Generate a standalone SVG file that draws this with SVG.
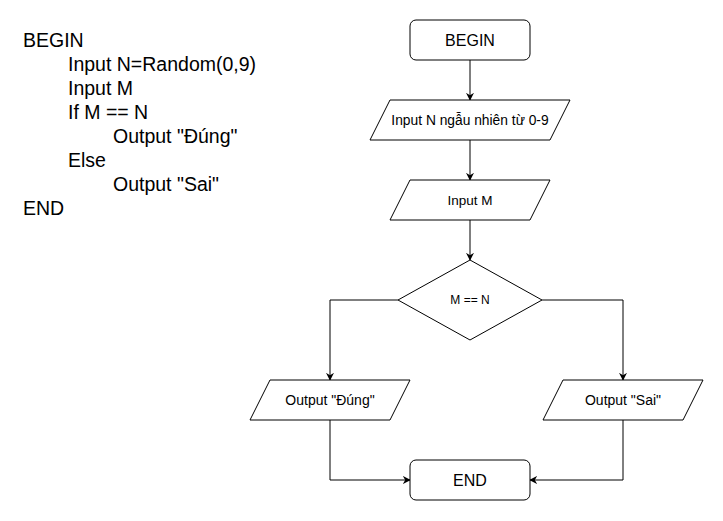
<svg xmlns="http://www.w3.org/2000/svg" width="723" height="521" viewBox="0 0 723 521">
<defs>
<marker id="arr" viewBox="0 0 10 10" refX="9" refY="5" markerWidth="8" markerHeight="8" markerUnits="userSpaceOnUse" orient="auto">
<path d="M0,0 L10,5 L0,10 L3,5 Z" fill="#000"/>
</marker>
</defs>
<style>
.shape{fill:#fff;stroke:#000;stroke-width:1}
.code{font-family:"Liberation Sans",Arial,sans-serif;font-size:19.5px;fill:#000}
.lbl{font-family:"Liberation Sans",Arial,sans-serif;fill:#000;text-anchor:middle;dominant-baseline:central}
.edge{fill:none;stroke:#000;stroke-width:1;marker-end:url(#arr)}
</style>
<rect width="723" height="521" fill="#fff"/>
<g id="code">
<text class="code" x="23" y="47">BEGIN</text>
<text class="code" x="68" y="71">Input N=Random(0,9)</text>
<text class="code" x="68" y="95">Input M</text>
<text class="code" x="68" y="119">If M == N</text>
<text class="code" x="113" y="143">Output "Đúng"</text>
<text class="code" x="68" y="167">Else</text>
<text class="code" x="113" y="191">Output "Sai"</text>
<text class="code" x="23" y="215">END</text>
</g>
<g id="connectors">
<path class="edge" d="M470,60 V100"/>
<path class="edge" d="M470,140 V180"/>
<path class="edge" d="M470,220 V260"/>
<path class="edge" d="M398,300 H330 V380"/>
<path class="edge" d="M542,300 H623 V380"/>
<path class="edge" d="M330,420 V480 H410"/>
<path class="edge" d="M623,420 V480 H530"/>
</g>
<g id="begin">
<rect class="shape" x="410" y="20" width="120" height="40" rx="6"/>
<text class="lbl" x="470" y="40" font-size="16">BEGIN</text>
</g>
<g id="inputN">
<polygon class="shape" points="390,100 570,100 550,140 370,140"/>
<text class="lbl" x="470" y="120" font-size="13.8">Input N ngẫu nhiên từ 0-9</text>
</g>
<g id="inputM">
<polygon class="shape" points="410,180 550,180 530,220 390,220"/>
<text class="lbl" x="470" y="200" font-size="13.5">Input M</text>
</g>
<g id="decision">
<polygon class="shape" points="470,260 542,300 470,340 398,300"/>
<text class="lbl" x="470" y="300" font-size="12">M == N</text>
</g>
<g id="outDung">
<polygon class="shape" points="270,380 410,380 390,420 250,420"/>
<text class="lbl" x="330" y="400" font-size="14">Output "Đúng"</text>
</g>
<g id="outSai">
<polygon class="shape" points="563,380 703,380 683,420 543,420"/>
<text class="lbl" x="623" y="400" font-size="14">Output "Sai"</text>
</g>
<g id="end">
<rect class="shape" x="410" y="460" width="120" height="40" rx="6"/>
<text class="lbl" x="470" y="480" font-size="16">END</text>
</g>
</svg>
